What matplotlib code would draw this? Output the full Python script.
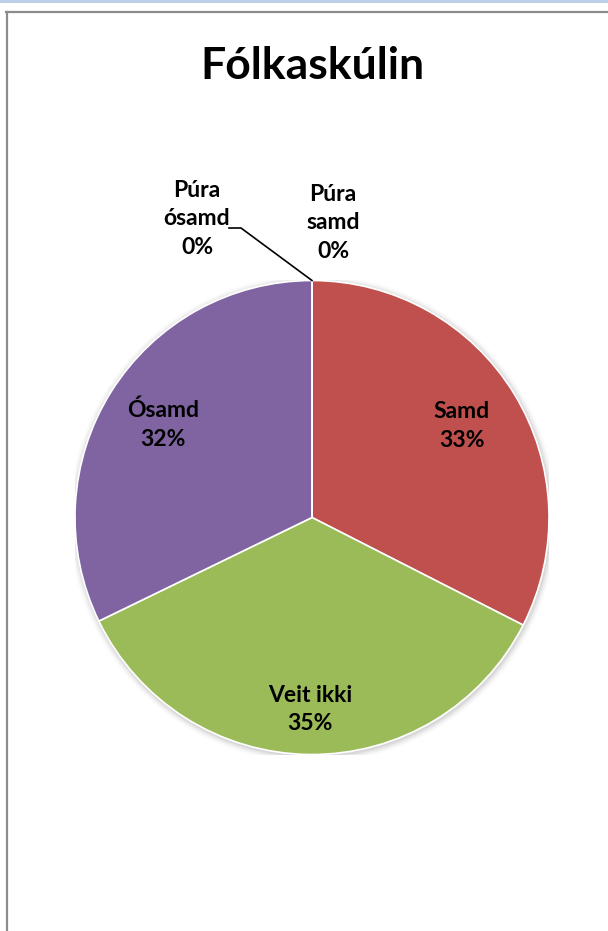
import matplotlib
matplotlib.use("Agg")
import matplotlib.pyplot as plt
import numpy as np
from matplotlib.patches import Rectangle, Circle
from matplotlib.lines import Line2D

title = "Fólkaskúlin"
categories = ["Púra samd", "Samd", "Veit ikki", "Ósamd", "Púra ósamd"]
values = [0, 32.5, 35.3, 32.2, 0]
pct_labels = ["0%", "33%", "35%", "32%", "0%"]
label_text = ["Púra\nsamd", "Samd", "Veit ikki", "Ósamd", "Púra\nósamd"]
colors = ["#4F81BD", "#C0504D", "#9BBB59", "#8064A2", "#4BACC6"]

W, H = 608, 931
fig = plt.figure(figsize=(W / 100, H / 100), dpi=100)
fig.patch.set_facecolor("white")

# window chrome / frame
fig.add_artist(Rectangle((0, 1 - 3 / H), 1, 3 / H, transform=fig.transFigure,
                         facecolor="#BCCFE6", edgecolor="none"))
fig.add_artist(Line2D([6 / W, 1], [1 - 11.5 / H, 1 - 11.5 / H], transform=fig.transFigure,
                      color="#8C8C8C", lw=1.6))
fig.add_artist(Line2D([6.5 / W, 6.5 / W], [0, 1 - 11.5 / H], transform=fig.transFigure,
                      color="#8C8C8C", lw=1.6))

fig.text(312 / W, 1 - 66 / H, title, ha="center", va="center",
         fontsize=32, fontweight="bold", family="Lato")

cx, cy, R = 312, 517.5, 237
ax = fig.add_axes([(cx - R) / W, (H - cy - R) / H, 2 * R / W, 2 * R / H])
ax.axis("off")

# soft shadow
for i, a in enumerate([0.05, 0.04, 0.03, 0.02, 0.01]):
    ax.add_patch(Circle((0.004, -0.006), 1.0 + 0.006 * (i + 1), facecolor="black",
                        alpha=a, edgecolor="none", zorder=0))

wedges, _ = ax.pie(values, colors=colors, startangle=90, counterclock=False,
                   radius=1.0, wedgeprops=dict(edgecolor="white", linewidth=1.2),
                   normalize=True)
for w in wedges:
    w.set_zorder(2)
ax.set_xlim(-1, 1)
ax.set_ylim(-1, 1)
ax.set_aspect("equal")

total = sum(values)
fs = 16.5
ls = 1.45
for i, (v, lt, pl) in enumerate(zip(values, label_text, pct_labels)):
    if v == 0:
        continue
    start = 90 - 360 * sum(values[:i]) / total
    mid = np.deg2rad(start - 180 * v / total)
    d = 0.81 if abs(np.cos(mid)) < 0.2 else 0.74
    ax.text(d * np.cos(mid), d * np.sin(mid), lt + "\n" + pl, ha="center", va="center",
            fontsize=fs, fontweight="bold", family="Lato", linespacing=ls, zorder=5)

# zero-value labels
def px(x, y):
    return ((x - cx) / R, (cy - y) / R)

x0, y0 = px(333, 223)
ax.text(x0, y0, label_text[0] + "\n" + pct_labels[0], ha="center", va="center",
        fontsize=fs, fontweight="bold", family="Lato", linespacing=ls, clip_on=False)
x4, y4 = px(197, 219)
ax.text(x4, y4, label_text[4] + "\n" + pct_labels[4], ha="center", va="center",
        fontsize=fs, fontweight="bold", family="Lato", linespacing=ls, clip_on=False)
# leader line
p1 = px(229, 228)
p2 = px(241, 228)
ax.plot([p1[0], p2[0], 0], [p1[1], p2[1], 1.0], color="black", lw=1.2,
        clip_on=False, zorder=4)

fig.savefig("out.png", dpi=100)
